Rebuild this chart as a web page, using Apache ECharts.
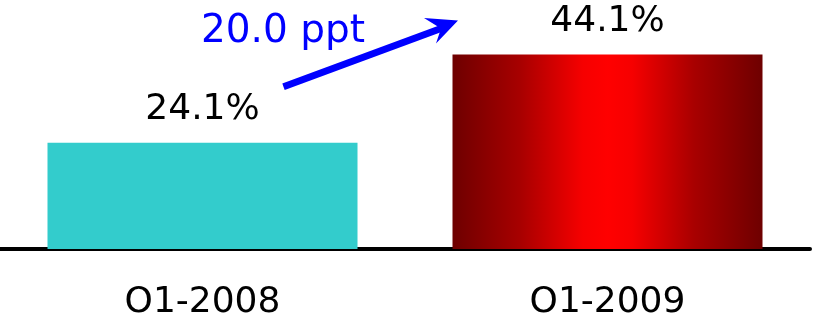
<!DOCTYPE html>
<html>
<head>
<meta charset="utf-8">
<style>
html,body{margin:0;padding:0;background:#fff;}
#chart{width:814px;height:326px;}
</style>
<script src="https://cdn.jsdelivr.net/npm/echarts@6/dist/echarts.min.js"></script>
</head>
<body>
<div id="chart"></div>
<script>
const categories = ['O1-2008', 'O1-2009'];
const values = [24.1, 44.1];
const valueLabels = ['24.1%', '44.1%'];
const changeLabel = '20.0 ppt';

const chart = echarts.init(document.getElementById('chart'), null, {renderer: 'canvas'});
const FONT = 'DejaVu Sans';

const redGradient = new echarts.graphic.LinearGradient(0, 0, 1, 0, [
  {offset: 0, color: '#6e0000'},
  {offset: 0.22, color: '#a80000'},
  {offset: 0.42, color: '#f60000'},
  {offset: 0.5, color: '#ff0000'},
  {offset: 0.58, color: '#f60000'},
  {offset: 0.78, color: '#a80000'},
  {offset: 1, color: '#6e0000'}
]);

chart.setOption({
  animation: false,
  backgroundColor: '#ffffff',
  grid: {left: 0, width: 810, top: 28.5, height: 220.5},
  xAxis: {
    type: 'category',
    data: categories,
    offset: 2,
    axisLine: {show: true, lineStyle: {color: '#000', width: 4}},
    axisTick: {show: false},
    axisLabel: {color: '#000', fontFamily: FONT, fontSize: 36, margin: 34}
  },
  yAxis: {
    type: 'value', min: 0, max: 50,
    show: false, splitLine: {show: false}
  },
  series: [{
    type: 'bar',
    barWidth: 310,
    data: values.map((v, i) => ({
      value: v,
      itemStyle: {color: i === 0 ? '#33cccc' : redGradient}
    })),
    label: {
      show: true, position: 'top', distance: 15,
      color: '#000', fontFamily: FONT, fontSize: 36,
      formatter: p => valueLabels[p.dataIndex]
    }
  }]
});

// annotation arrow, anchored to the bar tops
const a = chart.convertToPixel({seriesIndex: 0}, [0, values[0]]);
const b = chart.convertToPixel({seriesIndex: 0}, [1, values[1]]);
const start = [a[0] + 81, a[1] - 56];
const tip = [b[0] - 149.5, b[1] - 34];
const notch = [tip[0] - 17, tip[1] + 8];
const w1 = [tip[0] - 34, tip[1] - 2.5];
const w2 = [tip[0] - 22, tip[1] + 23];

chart.setOption({
  graphic: [
    {type: 'line', shape: {x1: start[0], y1: start[1], x2: notch[0] + 2, y2: notch[1] - 0.8},
     style: {stroke: '#0000ff', lineWidth: 7}},
    {type: 'polygon', shape: {points: [tip, w1, notch, w2]},
     style: {fill: '#0000ff'}},
    {type: 'text', x: (a[0] + b[0]) / 2 - 122, y: b[1] - 23,
     style: {text: changeLabel, fill: '#0000ff', font: '39px "' + FONT + '"',
             align: 'center', verticalAlign: 'middle'}}
  ]
});
</script>
</body>
</html>
